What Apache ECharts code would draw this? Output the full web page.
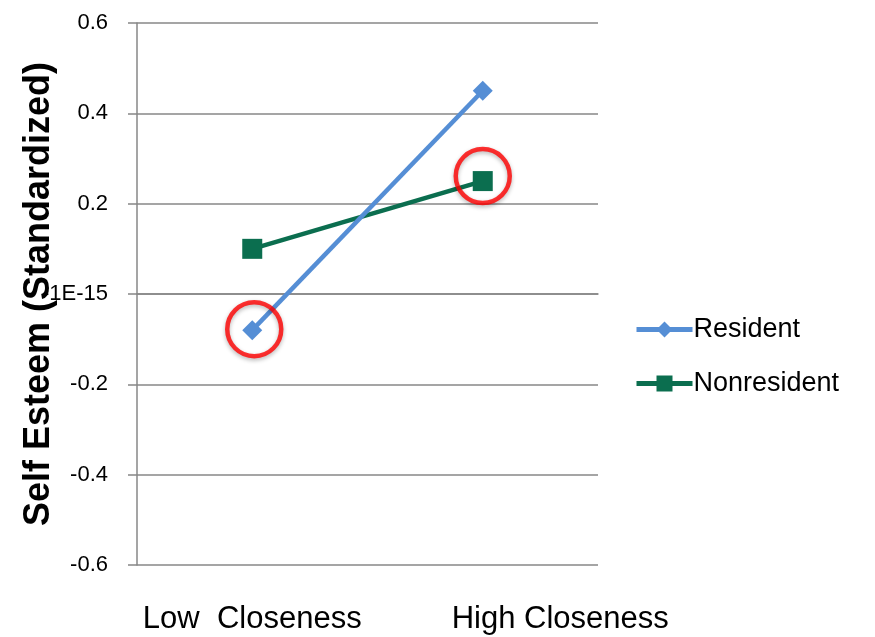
<!DOCTYPE html>
<html>
<head>
<meta charset="utf-8">
<script src="https://cdn.jsdelivr.net/npm/echarts@6/dist/echarts.min.js"></script>
<style>
  html, body { margin: 0; padding: 0; background: #fff; }
  #chart { width: 875px; height: 637px; }
</style>
</head>
<body>
<div id="chart"></div>
<script>
// Category labels and series values
const categories = ['Low  Closeness', 'High Closeness'];
const resident = [-0.08, 0.45];
const nonresident = [0.1, 0.25];
// Points ringed in red: [category index, series value]
const ringedResident = [[0, resident[0]]];
const ringedNonresident = [[1, nonresident[1]]];
const yTicks = { min: -0.6, max: 0.6, step: 0.2 };

const fontFamily = '"Liberation Sans", "Open Sans", sans-serif';
const gridColor = '#878787';
const blue = '#558ED5';
const green = '#0B6E4F';

const chart = echarts.init(document.getElementById('chart'), null, { renderer: 'canvas' });

const ringStyle = {
  color: 'rgba(0,0,0,0)', borderColor: '#FF0000', borderWidth: 4.5,
  shadowColor: 'rgba(0,0,0,0.35)', shadowBlur: 4, shadowOffsetY: 2
};

chart.setOption({
  animation: false,
  backgroundColor: '#ffffff',
  grid: {
    left: 137, right: 277, top: 23, bottom: 72,
    containLabel: false,
    outerBoundsMode: 'none'
  },
  legend: {
    orient: 'vertical',
    left: 634,
    top: 316,
    padding: 0,
    itemWidth: 56,
    itemHeight: 20,
    itemGap: 27,
    lineStyle: { width: 5 },
    textStyle: { fontFamily, fontSize: 27, color: '#000', padding: [0, 0, 0, -4] },
    data: ['Resident', 'Nonresident']
  },
  xAxis: {
    type: 'category',
    data: categories,
    boundaryGap: true,
    axisLine: { lineStyle: { color: gridColor, width: 1.5 } },
    axisTick: { show: false },
    axisLabel: {
      fontFamily, fontSize: 31, color: '#000', margin: 39,
      interval: 0,
      hideOverlap: false,
      // the right-hand label sits to the right of its category
      formatter: (v, i) => i === 1 ? '{shift|' + v + '}' : '{plain|' + v + '}',
      rich: {
        plain: { fontFamily, fontSize: 31, color: '#000' },
        shift: { fontFamily, fontSize: 31, color: '#000', padding: [0, 0, 0, 155] }
      }
    }
  },
  yAxis: {
    type: 'value',
    min: yTicks.min,
    max: yTicks.max,
    interval: yTicks.step,
    name: 'Self Esteem (Standardized)',
    nameLocation: 'middle',
    nameGap: 80,
    nameMoveOverlap: false,
    nameRotate: 90,
    nameTextStyle: { fontFamily, fontSize: 36, fontWeight: 'bold', color: '#000' },
    axisLine: { show: true, lineStyle: { color: gridColor, width: 1.5 } },
    axisTick: { show: true, inside: false, length: 9, lineStyle: { color: gridColor, width: 1.5 } },
    splitLine: { show: true, lineStyle: { color: gridColor, width: 1.5 } },
    axisLabel: {
      fontFamily, fontSize: 22, color: '#000', margin: 29,
      formatter: v => Math.abs(v) < 1e-9 ? '-1E-15' : v.toFixed(1)
    }
  },
  series: [
    {
      name: 'Resident',
      type: 'line',
      data: resident,
      symbol: 'diamond',
      symbolSize: 20,
      lineStyle: { color: blue, width: 4.5 },
      itemStyle: { color: blue },
      z: 3
    },
    {
      name: 'Nonresident',
      type: 'line',
      data: nonresident,
      symbol: 'rect',
      symbolSize: 20,
      lineStyle: { color: green, width: 4.5 },
      itemStyle: { color: green },
      z: 2
    },
    {
      name: 'ring-resident',
      type: 'scatter',
      data: ringedResident,
      symbol: 'circle',
      symbolSize: 54,
      symbolOffset: [2, -1],
      itemStyle: ringStyle,
      silent: true,
      z: 4
    },
    {
      name: 'ring-nonresident',
      type: 'scatter',
      data: ringedNonresident,
      symbol: 'circle',
      symbolSize: 54,
      symbolOffset: [0, -5],
      itemStyle: ringStyle,
      silent: true,
      z: 4
    }
  ]
});
</script>
</body>
</html>
